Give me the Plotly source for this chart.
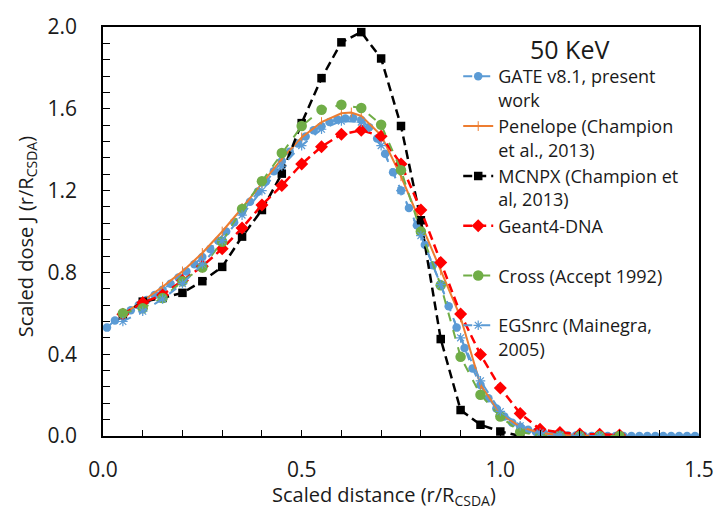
import plotly.graph_objects as go

# ---------------- data ----------------
gate_x = [0.01, 0.03, 0.05, 0.07, 0.09, 0.11, 0.13, 0.15, 0.17, 0.19,
          0.21, 0.23, 0.25, 0.27, 0.29, 0.31, 0.33, 0.35, 0.37, 0.39,
          0.41, 0.43, 0.45, 0.47, 0.49, 0.51, 0.53, 0.55, 0.57, 0.59,
          0.61, 0.63, 0.65, 0.67, 0.69, 0.71, 0.73, 0.75, 0.77, 0.79,
          0.81, 0.83, 0.85, 0.87, 0.89, 0.91, 0.93, 0.95, 0.97, 0.99,
          1.01, 1.03, 1.05, 1.07, 1.09, 1.11, 1.13, 1.15, 1.17, 1.19,
          1.21, 1.23, 1.25, 1.27, 1.29, 1.31, 1.33, 1.35, 1.37, 1.39,
          1.41, 1.43, 1.45, 1.47, 1.49]
gate_y = [0.53, 0.565, 0.59, 0.615, 0.64, 0.665, 0.69, 0.715, 0.745, 0.775,
          0.805, 0.84, 0.875, 0.915, 0.955, 1.0, 1.045, 1.095, 1.145, 1.195,
          1.245, 1.295, 1.345, 1.39, 1.43, 1.465, 1.495, 1.515, 1.535, 1.548,
          1.553, 1.555, 1.545, 1.51, 1.455, 1.38, 1.29, 1.2, 1.115, 1.03,
          0.935, 0.835, 0.74, 0.635, 0.53, 0.43, 0.33, 0.25, 0.185, 0.135,
          0.095, 0.065, 0.045, 0.03, 0.02, 0.012, 0.008, 0.005, 0.003, 0.002,
          0.001, 0.0, 0.0, 0.0, 0.0, 0.0, 0.0, 0.0, 0.0, 0.0,
          0.0, 0.0, 0.0, 0.0, 0.0]

pen_x = [0.05, 0.1, 0.15, 0.2, 0.25, 0.3, 0.35, 0.4, 0.45, 0.5, 0.55, 0.6,
         0.625, 0.65, 0.7, 0.75, 0.8, 0.85, 0.9, 0.95, 1.0, 1.05, 1.1, 1.15,
         1.2, 1.25]
pen_y = [0.595, 0.66, 0.73, 0.805, 0.895, 1.0, 1.115, 1.235, 1.355, 1.46,
         1.535, 1.578, 1.582, 1.565, 1.47, 1.27, 1.04, 0.81, 0.58, 0.25,
         0.11, 0.045, 0.015, 0.005, 0.002, 0.0]

mcnpx_x = [0.05, 0.1, 0.15, 0.2, 0.25, 0.3, 0.35, 0.4, 0.45, 0.5, 0.55, 0.6,
           0.65, 0.7, 0.75, 0.8, 0.85, 0.9, 0.95, 1.0, 1.05]
mcnpx_y = [0.59, 0.657, 0.675, 0.70, 0.757, 0.827, 0.975, 1.105, 1.283, 1.53,
           1.75, 1.925, 1.975, 1.846, 1.516, 1.055, 0.474, 0.127, 0.055,
           0.022, 0.0]

g4_x = [0.05, 0.1, 0.15, 0.2, 0.25, 0.3, 0.35, 0.4, 0.45, 0.5, 0.55, 0.6,
        0.65, 0.7, 0.75, 0.8, 0.85, 0.9, 0.95, 1.0, 1.05, 1.1, 1.15, 1.2,
        1.25, 1.3]
g4_y = [0.595, 0.652, 0.69, 0.76, 0.83, 0.916, 1.017, 1.13, 1.225, 1.33,
        1.415, 1.475, 1.495, 1.466, 1.33, 1.105, 0.848, 0.597, 0.398, 0.235,
        0.11, 0.033, 0.017, 0.01, 0.008, 0.005]

cross_x = [0.05, 0.1, 0.15, 0.2, 0.25, 0.3, 0.35, 0.4, 0.45, 0.5, 0.55, 0.6,
           0.65, 0.7, 0.75, 0.8, 0.85, 0.9, 0.95, 1.0, 1.05, 1.1, 1.15, 1.2,
           1.25, 1.3]
cross_y = [0.60, 0.625, 0.675, 0.757, 0.824, 0.95, 1.11, 1.246, 1.384, 1.516,
           1.595, 1.62, 1.604, 1.522, 1.30, 1.0, 0.737, 0.387, 0.202, 0.095,
           0.02, 0.0, 0.0, 0.0, 0.0, 0.0]

egs_x = [0.05, 0.1, 0.15, 0.2, 0.25, 0.3, 0.35, 0.4, 0.45, 0.5, 0.55, 0.6,
         0.65, 0.7, 0.75, 0.8, 0.85, 0.9, 0.95, 1.0, 1.05, 1.1, 1.15, 1.2,
         1.25]
egs_y = [0.56, 0.61, 0.67, 0.745, 0.84, 0.955, 1.08, 1.2, 1.32, 1.42,
         1.5, 1.54, 1.535, 1.42, 1.2, 0.98, 0.74, 0.48, 0.27, 0.12,
         0.05, 0.015, 0.005, 0.0, 0.0]

names = ["GATE v8.1, present<br>work",
         "Penelope (Champion<br>et al., 2013)",
         "MCNPX (Champion et<br>al, 2013)",
         "Geant4-DNA<br>&nbsp;",
         "Cross (Accept 1992)<br>&nbsp;",
         "EGSnrc (Mainegra,<br>2005)"]

x_ticks = [0.0, 0.5, 1.0, 1.5]
y_ticks = [0.0, 0.4, 0.8, 1.2, 1.6, 2.0]

BLUE = "#5B9BD5"
ORANGE = "#ED7D31"
RED = "#FF0000"
GREEN = "#70AD47"

fig = go.Figure()
fig.add_trace(go.Scatter(x=gate_x, y=gate_y, name=names[0], mode="lines+markers",
                         line=dict(color=BLUE, width=2, dash="dash"),
                         marker=dict(symbol="circle", size=8.5, color=BLUE)))
fig.add_trace(go.Scatter(x=pen_x, y=pen_y, name=names[1], mode="lines+markers",
                         line=dict(color=ORANGE, width=2),
                         marker=dict(symbol="line-ns", size=7,
                                     line=dict(color=ORANGE, width=1))))
fig.add_trace(go.Scatter(x=mcnpx_x, y=mcnpx_y, name=names[2], mode="lines+markers",
                         line=dict(color="black", width=2.5, dash="9px,5px"),
                         marker=dict(symbol="square", size=8.5, color="black")))
fig.add_trace(go.Scatter(x=g4_x, y=g4_y, name=names[3], mode="lines+markers",
                         line=dict(color=RED, width=2.5, dash="9px,5px"),
                         marker=dict(symbol="diamond", size=10, color=RED)))
fig.add_trace(go.Scatter(x=cross_x, y=cross_y, name=names[4], mode="lines+markers",
                         line=dict(color=GREEN, width=2, dash="dash"),
                         marker=dict(symbol="circle", size=10.5, color=GREEN)))
fig.add_trace(go.Scatter(x=egs_x, y=egs_y, name=names[5], mode="lines+markers",
                         line=dict(color=BLUE, width=2, dash="dash"),
                         marker=dict(symbol="asterisk-open", size=8,
                                     line=dict(color=BLUE, width=1.2))))

FONT = "'Open Sans', Lato, sans-serif"
TXT = "#1a1a1a"

fig.update_layout(
    width=726, height=511,
    margin=dict(l=103, r=16, t=17, b=75),
    paper_bgcolor="white", plot_bgcolor="white",
    font=dict(family=FONT, color=TXT),
    showlegend=True,
    legend=dict(x=0.596, y=0.924, xanchor="left", yanchor="top",
                bgcolor="rgba(0,0,0,0)", font=dict(size=18, family=FONT, color=TXT),
                valign="top", tracegroupgap=0),
    annotations=[
        dict(text="50 KeV", x=0.782, y=0.945, xref="paper", yref="paper",
             showarrow=False, font=dict(size=25, family=FONT, color=TXT),
             xanchor="center", yanchor="middle"),
        dict(text="Scaled distance (r/R<sub>CSDA</sub>)", x=0.471, y=-0.146,
             xref="paper", yref="paper", showarrow=False,
             font=dict(size=20, family=FONT, color=TXT),
             xanchor="center", yanchor="middle"),
        dict(text="Scaled dose J (r/R<sub>CSDA</sub>)", x=-0.1285, y=0.487,
             xref="paper", yref="paper", showarrow=False, textangle=-90,
             font=dict(size=20, family=FONT, color=TXT),
             xanchor="center", yanchor="middle"),
    ],
)

fig.update_xaxes(range=[0, 1.5], tickvals=x_ticks, tickformat=".1f",
                 ticks="inside", ticklen=6, tickcolor="black",
                 minor=dict(dtick=0.1, ticks="inside", ticklen=6, tickcolor="black"),
                 showline=True, linecolor="black", linewidth=1.5, mirror=True,
                 showgrid=False, zeroline=False,
                 tickfont=dict(size=21, family=FONT, color=TXT), ticklabelstandoff=14)
fig.update_yaxes(range=[0, 2.0], tickvals=y_ticks, tickformat=".1f",
                 ticks="inside", ticklen=7, tickcolor="black",
                 minor=dict(dtick=0.08, ticks="inside", ticklen=7, tickcolor="black"),
                 showline=True, linecolor="black", linewidth=1.5, mirror=True,
                 showgrid=False, zeroline=False,
                 tickfont=dict(size=21, family=FONT, color=TXT), ticklabelstandoff=20)

fig.write_html("out.html")
